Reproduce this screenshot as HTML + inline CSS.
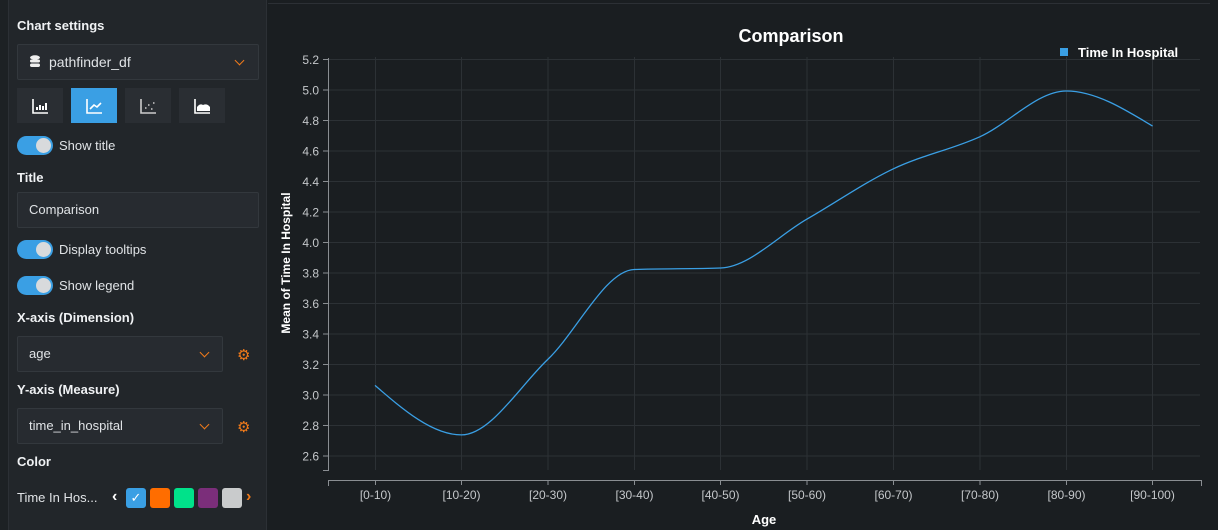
<!DOCTYPE html>
<html><head><meta charset="utf-8"><style>
*{margin:0;padding:0;box-sizing:border-box}
body{width:1218px;height:530px;background:#1a1e21;font-family:"Liberation Sans",sans-serif;color:#e6e8ea;position:relative;overflow:hidden}
.abs{position:absolute}
.side{left:8px;top:0;width:259px;height:530px;background:#22262a;border-left:1px solid #2c3035;border-right:1px solid #2c3035}
.strip{left:0;top:0;width:8px;height:530px;background:#1d2124}
.lbl{font-size:13px;font-weight:bold;color:#f0f2f4}
.txt{font-size:13px;color:#e0e3e6}
.box{background:#272b30;border:1px solid #33383d;border-radius:2px}
.btn{background:#2a2e33;width:46px;height:35px}
.tog{width:36px;height:19px;border-radius:10px;background:#3a9fe4}
.tog::after{content:"";position:absolute;right:2px;top:2px;width:15px;height:15px;border-radius:50%;background:#d8dadc}
.chev{width:7px;height:7px;border-right:1.5px solid #f07a1a;border-bottom:1.5px solid #f07a1a;transform:rotate(45deg)}
.sw{width:20px;height:20px;border-radius:3px;top:488px}
</style></head><body>
<div class="abs strip"></div>
<div class="abs side"></div>
<div class="abs" style="left:268px;top:3px;width:942px;height:1px;background:#2c3035"></div>
<div class="abs lbl" style="left:17px;top:18px">Chart settings</div>
<div class="abs box" style="left:17px;top:44px;width:242px;height:36px"></div>
<svg class="abs" style="left:29px;top:55px" width="12" height="13"><ellipse cx="6" cy="2.5" rx="5" ry="2.2" fill="#eee"/><rect x="1" y="4.5" width="10" height="3" rx="1.5" fill="#eee"/><rect x="1" y="8.5" width="10" height="3.5" rx="1.7" fill="#eee"/></svg>
<div class="abs txt" style="left:49px;top:54px;font-size:14px">pathfinder_df</div>
<div class="abs chev" style="left:236px;top:57px"></div>
<div class="abs btn" style="left:17px;top:88px"></div>
<div class="abs btn" style="left:71px;top:88px;background:#3a9fe4"></div>
<div class="abs btn" style="left:125px;top:88px"></div>
<div class="abs btn" style="left:179px;top:88px"></div>
<svg class="abs" style="left:17px;top:88px" width="210" height="35" fill="none" stroke="#fff" stroke-width="1.6">
<path d="M16 11v14h15"/><path d="M20 22v-3M23 22v-5M26 22v-4M29 22v-7" stroke-width="2"/>
<path d="M70 11v14h15M73 21l4-4 3 2 4-4"/>
<path d="M124 11v14h15" stroke="#ccc"/><path d="M128 20h1.5M131 17h1.5M134 21h1.5M136 15h1.5" stroke="#ccc"/>
<path d="M178 11v14h15"/><path d="M180 23v-4q3-4 6-2q4-2 7 2v4z" fill="#fff" stroke="none"/>
</svg>
<div class="abs tog" style="left:17px;top:136px"></div>
<div class="abs txt" style="left:59px;top:138px">Show title</div>
<div class="abs lbl" style="left:17px;top:170px">Title</div>
<div class="abs box" style="left:17px;top:192px;width:242px;height:36px"></div>
<div class="abs txt" style="left:29px;top:202px">Comparison</div>
<div class="abs tog" style="left:17px;top:240px"></div>
<div class="abs txt" style="left:59px;top:242px">Display tooltips</div>
<div class="abs tog" style="left:17px;top:276px"></div>
<div class="abs txt" style="left:59px;top:278px">Show legend</div>
<div class="abs lbl" style="left:17px;top:310px">X-axis (Dimension)</div>
<div class="abs box" style="left:17px;top:336px;width:206px;height:36px"></div>
<div class="abs txt" style="left:29px;top:346px">age</div>
<div class="abs chev" style="left:201px;top:349px"></div>
<div class="abs" style="left:237px;top:346px;color:#f07a1a;font-size:15px">&#9881;</div>
<div class="abs lbl" style="left:17px;top:382px">Y-axis (Measure)</div>
<div class="abs box" style="left:17px;top:408px;width:206px;height:36px"></div>
<div class="abs txt" style="left:29px;top:418px">time_in_hospital</div>
<div class="abs chev" style="left:201px;top:421px"></div>
<div class="abs" style="left:237px;top:418px;color:#f07a1a;font-size:15px">&#9881;</div>
<div class="abs lbl" style="left:17px;top:454px">Color</div>
<div class="abs txt" style="left:17px;top:490px">Time In Hos...</div>
<div class="abs" style="left:112px;top:488px;font-size:16px;color:#fff;font-weight:bold">&#8249;</div>
<div class="abs sw" style="left:126px;background:#3a9fe4;color:#fff;font-size:13px;text-align:center;line-height:20px">&#10003;</div>
<div class="abs sw" style="left:150px;background:#ff6d00"></div>
<div class="abs sw" style="left:174px;background:#00e28a"></div>
<div class="abs sw" style="left:198px;background:#7b2e7a"></div>
<div class="abs sw" style="left:222px;background:#c9cbcc"></div>
<div class="abs" style="left:246px;top:488px;font-size:16px;color:#f07a1a;font-weight:bold">&#8250;</div>

<svg class="abs" style="left:0;top:0" width="1218" height="530" font-family="Liberation Sans, sans-serif">
<g stroke="#2c3135" stroke-width="1">
<path d="M328 59.5H1200M328 90H1200M328 120.5H1200M328 151H1200M328 181.5H1200M328 212H1200M328 242.5H1200M328 273H1200M328 303.5H1200M328 334H1200M328 364.5H1200M328 395H1200M328 425.5H1200M328 456H1200"/>
<path d="M375.5 57V470M461.5 57V470M548 57V470M634.5 57V470M720.5 57V470M807 57V470M893.5 57V470M980 57V470M1066.5 57V470M1152.5 57V470"/>
</g>
<g stroke="#8a8e92" stroke-width="1" fill="none">
<path d="M328.5 58V470.5H323M323 59.5h5M323 90h5M323 120.5h5M323 151h5M323 181.5h5M323 212h5M323 242.5h5M323 273h5M323 303.5h5M323 334h5M323 364.5h5M323 395h5M323 425.5h5M323 456h5"/>
<path d="M328.5 486v-5.5H1201.5v5.5M375.5 480v5M461.5 480v5M548 480v5M634.5 480v5M720.5 480v5M807 480v5M893.5 480v5M980 480v5M1066.5 480v5M1152.5 480v5"/>
</g>
<g fill="#c4c7ca" font-size="12" text-anchor="end">
<text x="319" y="64">5.2</text><text x="319" y="94.5">5.0</text><text x="319" y="125">4.8</text><text x="319" y="155.5">4.6</text><text x="319" y="186">4.4</text><text x="319" y="216.5">4.2</text><text x="319" y="247">4.0</text><text x="319" y="277.5">3.8</text><text x="319" y="308">3.6</text><text x="319" y="338.5">3.4</text><text x="319" y="369">3.2</text><text x="319" y="399.5">3.0</text><text x="319" y="430">2.8</text><text x="319" y="460.5">2.6</text>
</g>
<g fill="#c4c7ca" font-size="12" text-anchor="middle">
<text x="375.5" y="499">[0-10)</text><text x="461.5" y="499">[10-20)</text><text x="548" y="499">[20-30)</text><text x="634.5" y="499">[30-40)</text><text x="720.5" y="499">[40-50)</text><text x="807" y="499">[50-60)</text><text x="893.5" y="499">[60-70)</text><text x="980" y="499">[70-80)</text><text x="1066.5" y="499">[80-90)</text><text x="1152.5" y="499">[90-100)</text>
</g>
<path fill="none" stroke="#3a9fe4" stroke-width="1.3" d="M375,385.4 C403.8,410.2 432.6,434.9 461.4,434.9 C490.2,434.9 519,387 547.8,359.4 C576.6,331.8 605.4,270.5 634.2,269.5 C663,268.5 691.8,269 720.6,268 C749.4,267 778.2,235.6 807,219.1 C835.8,202.6 864.6,182.5 893.4,168.8 C922.2,155.1 951,149.8 979.8,136.8 C1008.6,123.8 1037.4,91 1066.2,91 C1095,91 1123.8,108.6 1152.6,126.1"/>
<text x="791" y="42" fill="#fff" font-size="18" font-weight="bold" text-anchor="middle">Comparison</text>
<rect x="1060" y="48" width="8" height="8" fill="#3a9fe4"/>
<text x="1078" y="57" fill="#fff" font-size="13" font-weight="bold">Time In Hospital</text>
<text x="764" y="524" fill="#fff" font-size="13" font-weight="bold" text-anchor="middle">Age</text>
<text transform="translate(290,263) rotate(-90)" fill="#fff" font-size="12" font-weight="bold" text-anchor="middle">Mean of Time In Hospital</text>
</svg>
</body></html>
